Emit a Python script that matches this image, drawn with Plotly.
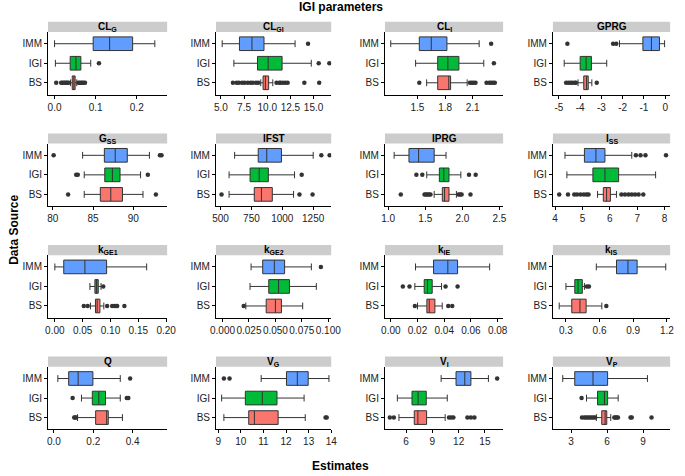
""" faceted horizontal boxplots of IGI parameter estimates by data source """

import plotly.graph_objects as go
from plotly.subplots import make_subplots

# facet titles, in panel order (row by row)
PARAMS = ["CL<sub>G</sub>", "CL<sub>GI</sub>", "CL<sub>I</sub>", "GPRG",
          "G<sub>SS</sub>", "IFST", "IPRG", "I<sub>SS</sub>",
          "k<sub>GE1</sub>", "k<sub>GE2</sub>", "k<sub>IE</sub>", "k<sub>IS</sub>",
          "Q", "V<sub>G</sub>", "V<sub>I</sub>", "V<sub>P</sub>"]
SOURCES = ["BS", "IGI", "IMM"]

# box statistics per source, one value per panel
IMM_LOW = [0.0, 5.14, 1.21, -2.15, 83.7, 614, 1.08, 4.36, 0.0, 0.027, 0.0185, 0.571, 0.02, 10.9, 10.0, 2.3]
IMM_Q1 = [0.094, 7.0, 1.52, -1.05, 86.4, 805, 1.28, 5.07, 0.016, 0.038, 0.032, 0.751, 0.075, 12.02, 11.7, 3.3]
IMM_MED = [0.134, 8.35, 1.65, -0.65, 87.75, 874, 1.41, 5.49, 0.054, 0.049, 0.0427, 0.853, 0.123, 12.5, 12.7, 4.82]
IMM_Q3 = [0.19, 9.65, 1.82, -0.27, 89.25, 993, 1.62, 5.82, 0.093, 0.0587, 0.050, 0.935, 0.198, 12.98, 13.4, 6.04]
IMM_HIGH = [0.244, 13.0, 2.17, -0.03, 92.0, 1250, 1.78, 6.8, 0.165, 0.084, 0.074, 1.19, 0.337, 13.9, 15.4, 9.36]
IMM_OUT = [[], [14.4], [2.30], [-4.6, -2.45, -2.3], [80.1, 93.3, 93.5], [1316, 1383], [],
           [6.95, 7.12, 7.3, 8.05], [], [0.093], [], [], [0.387], [9.25, 9.5], [16.4], []]

IGI_LOW = [0.002, 6.4, 1.48, -4.75, 83.9, 569, 1.52, 4.43, 0.063, 0.026, 0.018, 0.30, 0.14, 9.15, 5.0, 4.28]
IGI_Q1 = [0.038, 8.95, 1.72, -4.0, 86.45, 739, 1.69, 5.38, 0.072, 0.0437, 0.025, 0.379, 0.195, 10.2, 6.67, 5.2]
IGI_MED = [0.052, 10.1, 1.83, -3.72, 87.4, 813, 1.75, 5.82, 0.075, 0.053, 0.0275, 0.408, 0.228, 10.95, 7.37, 5.78]
IGI_Q3 = [0.064, 11.6, 1.95, -3.47, 88.35, 887, 1.82, 6.32, 0.078, 0.0633, 0.031, 0.446, 0.262, 11.6, 8.3, 6.04]
IGI_HIGH = [0.088, 14.75, 2.22, -2.75, 90.9, 1099, 1.98, 7.67, 0.083, 0.0887, 0.038, 0.465, 0.337, 12.8, 10.7, 6.92]
IGI_OUT = [[0.108], [15.55, 16.7], [2.33], [], [82.9, 83.1, 91.8], [1157], [1.38, 1.46, 2.09, 2.18],
           [], [0.087], [], [0.009, 0.014, 0.041, 0.050], [0.487, 0.505], [0.095, 0.37, 0.378], [], [], [3.87]]

BS_LOW = [0.039, 9.3, 1.6, -4.1, 83.9, 569, 1.62, 5.55, 0.064, 0.022, 0.020, 0.24, 0.12, 9.25, 5.18, 5.1]
BS_Q1 = [0.043, 9.55, 1.72, -3.83, 85.9, 773, 1.73, 5.76, 0.073, 0.0413, 0.027, 0.352, 0.212, 10.35, 6.93, 5.55]
BS_MED = [0.047, 9.8, 1.84, -3.7, 87.2, 831, 1.76, 5.88, 0.076, 0.050, 0.0288, 0.425, 0.268, 10.6, 7.34, 5.83]
BS_Q3 = [0.050, 10.15, 1.86, -3.62, 88.65, 919, 1.82, 6.02, 0.081, 0.0557, 0.033, 0.48, 0.276, 11.65, 8.34, 5.97]
BS_HIGH = [0.054, 10.6, 2.04, -3.45, 91.2, 1091, 1.92, 6.24, 0.088, 0.0758, 0.0385, 0.62, 0.348, 12.85, 10.46, 6.3]
BS_OUT = [
    [0.004, 0.016, 0.019, 0.023, 0.025, 0.029, 0.031, 0.035, 0.058, 0.061, 0.065, 0.067, 0.071, 0.074],
    [6.3, 6.7, 6.95, 7.3, 7.55, 7.9, 8.2, 8.45, 8.8, 9.05, 11.0, 11.3, 11.45, 11.7, 11.95, 12.2, 14.0, 15.6],
    [1.52, 2.07, 2.09, 2.11, 2.13, 2.25, 2.28, 2.3, 2.32, 2.34],
    [-4.66, -4.55, -4.45, -4.36, -4.25, -4.2, -3.22],
    [81.9, 92.8],
    [508, 1139, 1245],
    [1.17, 1.49, 1.51, 1.53, 1.55, 1.57, 1.95, 1.97, 1.99, 2.11],
    [4.15, 4.47, 4.7, 4.8, 4.93, 5.05, 5.15, 5.22, 6.42, 6.55, 6.68, 6.8, 6.92, 7.05, 7.22],
    [0.052, 0.059, 0.094, 0.103, 0.107, 0.110, 0.112, 0.125],
    [0.020],
    [0.018, 0.043, 0.046],
    [0.66],
    [0.103, 0.108, 0.113],
    [13.75, 13.8],
    [4.14, 4.6, 10.9, 11.15, 11.4, 13.0, 13.4, 13.8],
    [3.9, 4.1, 4.25, 4.4, 4.55, 4.7, 4.85, 5.0, 6.6, 6.7, 6.8, 6.9, 7.95, 8.05, 9.7],
]

# x tick positions and labels per panel
TICKVALS = [[0, 0.1, 0.2], [5, 7.5, 10, 12.5, 15], [1.5, 1.8, 2.1], [-5, -4, -3, -2, -1, 0],
            [80, 85, 90], [500, 750, 1000, 1250], [1.0, 1.5, 2.0, 2.5], [4, 5, 6, 7, 8],
            [0, 0.05, 0.1, 0.15, 0.2], [0, 0.025, 0.05, 0.075, 0.1], [0, 0.02, 0.04, 0.06, 0.08],
            [0.3, 0.6, 0.9, 1.2], [0.0, 0.2, 0.4], [9, 10, 11, 12, 13, 14], [6, 9, 12, 15], [3, 6, 9]]
TICKTEXT = [["0.0", "0.1", "0.2"], ["5.0", "7.5", "10.0", "12.5", "15.0"], ["1.5", "1.8", "2.1"],
            ["-5", "-4", "-3", "-2", "-1", "0"], ["80", "85", "90"], ["500", "750", "1000", "1250"],
            ["1.0", "1.5", "2.0", "2.5"], ["4", "5", "6", "7", "8"],
            ["0.00", "0.05", "0.10", "0.15", "0.20"], ["0.000", "0.025", "0.050", "0.075", "0.100"],
            ["0.00", "0.02", "0.04", "0.06", "0.08"], ["0.3", "0.6", "0.9", "1.2"],
            ["0.0", "0.2", "0.4"], ["9", "10", "11", "12", "13", "14"], ["6", "9", "12", "15"], ["3", "6", "9"]]

# axis ranges (layout)
XRANGES = [[-0.016, 0.274], [4.47, 16.9], [1.147, 2.43], [-5.28, 0.23],
           [79.4, 94.2], [463, 1396], [0.956, 2.55], [3.92, 8.2],
           [-0.0123, 0.2018], [-0.0062, 0.1028], [-0.0044, 0.0841], [0.184, 1.229],
           [-0.03, 0.575], [8.9, 14.0], [3.58, 17.08], [1.48, 11.25]]

W, H = 685, 476
COL_LEFT = [43, 215, 388, 560]
COL_RIGHT = [165, 333, 509, 680]
ROW_STEP = 111.6
COLORS = {"IMM": "#619CFF", "IGI": "#00BA38", "BS": "#F8766D"}
FONT = "Arial, Liberation Sans, sans-serif"

STATS = {
    "IMM": (IMM_LOW, IMM_Q1, IMM_MED, IMM_Q3, IMM_HIGH, IMM_OUT),
    "IGI": (IGI_LOW, IGI_Q1, IGI_MED, IGI_Q3, IGI_HIGH, IGI_OUT),
    "BS": (BS_LOW, BS_Q1, BS_MED, BS_Q3, BS_HIGH, BS_OUT),
}

fig = make_subplots(rows=4, cols=4)

for i in range(16):
    row, col = i // 4 + 1, i % 4 + 1
    for src in SOURCES:
        low, q1, med, q3, high, out = STATS[src]
        fig.add_trace(go.Box(
            orientation="h", y=[src], q1=[q1[i]], median=[med[i]], q3=[q3[i]],
            lowerfence=[low[i]], upperfence=[high[i]], boxpoints=False, width=0.7,
            fillcolor=COLORS[src], line={"color": "#333333", "width": 1},
            showlegend=False, hoverinfo="skip"
        ), row=row, col=col)
        if out[i]:
            fig.add_trace(go.Scatter(
                x=out[i], y=[src] * len(out[i]), mode="markers",
                marker={"color": "#333333", "size": 4.5}, showlegend=False, hoverinfo="skip"
            ), row=row, col=col)

annotations = []
shapes = []
for i in range(16):
    r, c = i // 4, i % 4
    n = "" if i == 0 else str(i + 1)
    head_top = 21.8 + ROW_STEP * r
    head_bot = 32.0 + ROW_STEP * r
    axis_y = 94.5 + ROW_STEP * r
    x0, x1 = COL_LEFT[c] / W, COL_RIGHT[c] / W
    fig.layout["xaxis" + n].update(
        domain=[x0, x1], range=XRANGES[i], tickvals=TICKVALS[i], ticktext=TICKTEXT[i],
        showline=True, linecolor="black", linewidth=1, ticks="outside", ticklen=3,
        tickcolor="black", showgrid=False, zeroline=False, tickangle=0,
        tickfont={"size": 10, "color": "#222222", "family": FONT}
    )
    fig.layout["yaxis" + n].update(
        domain=[1 - axis_y / H, 1 - head_bot / H], type="category",
        categoryorder="array", categoryarray=SOURCES, range=[-0.6, 2.6],
        showline=True, linecolor="black", linewidth=1, ticks="outside", ticklen=3,
        tickcolor="black", showgrid=False, zeroline=False,
        tickfont={"size": 10, "color": "#222222", "family": FONT}
    )
    shapes.append({"type": "rect", "xref": "paper", "yref": "paper",
                   "x0": x0, "x1": x1, "y0": 1 - head_bot / H, "y1": 1 - head_top / H,
                   "fillcolor": "#CCCCCC", "line": {"width": 0}, "layer": "below"})
    annotations.append({"text": "<b>" + PARAMS[i] + "</b>", "xref": "paper", "yref": "paper",
                        "x": (x0 + x1) / 2, "y": 1 - (head_top + head_bot) / 2 / H,
                        "xanchor": "center", "yanchor": "middle", "showarrow": False,
                        "font": {"size": 10, "color": "black", "family": FONT}})

annotations += [
    {"text": "<b>IGI parameters</b>", "x": 343.5 / W, "y": 1 - 7.5 / H},
    {"text": "<b>Estimates</b>", "x": 342 / W, "y": 1 - 466 / H},
    {"text": "<b>Data Source</b>", "x": 8 / W, "y": 1 - 230 / H, "textangle": -90},
]
for a in annotations[-3:]:
    a.update({"xref": "paper", "yref": "paper", "xanchor": "center", "yanchor": "middle",
              "showarrow": False, "font": {"size": 12, "color": "black", "family": FONT}})

fig.update_layout(
    width=W, height=H, margin={"l": 0, "r": 0, "t": 0, "b": 0},
    paper_bgcolor="white", plot_bgcolor="white", showlegend=False,
    annotations=annotations, shapes=shapes
)

# drop the default page margin so the figure sits at the window corner
fig.write_html("out.html", config={"displayModeBar": False},
               post_script="document.body.style.margin='0';")
